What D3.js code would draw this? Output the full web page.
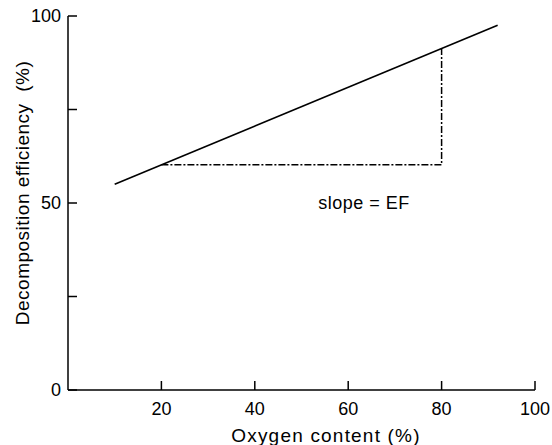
<!DOCTYPE html>
<html>
<head>
<meta charset="utf-8">
<script src="https://cdn.jsdelivr.net/npm/d3@7"></script>
<style>
  body { margin: 0; background: #fff; }
  text { font-family: "Liberation Sans", Arial, sans-serif; fill: #000; }
</style>
</head>
<body>
<svg width="552" height="445"></svg>
<script>
// data
var xTicks = [20, 40, 60, 80, 100];
var yTicks = [0, 25, 50, 75, 100];
var yLabels = [0, 50, 100];
var fitLine = [[10, 55], [92, 97.5]];
var slopeGuide = [[20, 60.2], [80, 60.2], [80, 91.3]];
var note = { x: 53.6, y: 50, text: 'slope = EF' };

var svg = d3.select('svg');

var x = d3.scaleLinear().domain([0, 100]).range([68, 535]),
  y = d3.scaleLinear().domain([0, 100]).range([390, 16]);

// axes lines
svg.append('line')
  .attr('x1', x(0)).attr('x2', x(0))
  .attr('y1', y(0)).attr('y2', y(100))
  .attr('stroke', '#000').attr('stroke-width', 1.5);

svg.append('line')
  .attr('x1', x(0)).attr('x2', x(100))
  .attr('y1', y(0)).attr('y2', y(0))
  .attr('stroke', '#000').attr('stroke-width', 1.5);

// y ticks point inward
svg.selectAll('.ytick')
  .data(yTicks)
  .enter()
  .append('line')
  .attr('x1', x(0)).attr('x2', x(0) + 9)
  .attr('y1', d => y(d)).attr('y2', d => y(d))
  .attr('stroke', '#000').attr('stroke-width', 1.5);

svg.selectAll('.ylab')
  .data(yLabels)
  .enter()
  .append('text')
  .attr('x', x(0) - 7)
  .attr('y', d => y(d))
  .attr('dy', '.35em')
  .attr('text-anchor', 'end')
  .attr('font-size', 18)
  .text(d => d);

// x ticks
svg.selectAll('.xtick')
  .data(xTicks)
  .enter()
  .append('line')
  .attr('x1', d => x(d)).attr('x2', d => x(d))
  .attr('y1', y(0)).attr('y2', y(0) - 9)
  .attr('stroke', '#000').attr('stroke-width', 1.5);

svg.selectAll('.xlab')
  .data(xTicks)
  .enter()
  .append('text')
  .attr('x', d => x(d))
  .attr('y', 409)
  .attr('dy', '.35em')
  .attr('text-anchor', 'middle')
  .attr('font-size', 18)
  .text(d => d);

svg.append('text')
  .attr('x', 326)
  .attr('y', 441.5)
  .attr('text-anchor', 'middle')
  .attr('font-size', 19)
  .attr('letter-spacing', 1.2)
  .text('Oxygen content (%)');

svg.append('text')
  .attr('transform', 'translate(22,193) rotate(-90)')
  .attr('dy', '.35em')
  .attr('text-anchor', 'middle')
  .attr('font-size', 19)
  .attr('letter-spacing', 0.5)
  .attr('xml:space', 'preserve')
  .style('white-space', 'pre')
  .text('Decomposition efficiency  (%)');

var line = d3.line().x(d => x(d[0])).y(d => y(d[1]));

svg.append('path')
  .attr('d', line(fitLine))
  .attr('fill', 'none')
  .attr('stroke', '#000')
  .attr('stroke-width', 1.6);

// dash-dot guide showing the slope
svg.append('path')
  .attr('d', line(slopeGuide))
  .attr('fill', 'none')
  .attr('stroke', '#000')
  .attr('stroke-width', 1.5)
  .attr('stroke-dasharray', '7,2,2,2');

svg.append('text')
  .attr('x', x(note.x))
  .attr('y', y(note.y))
  .attr('dy', '.35em')
  .attr('font-size', 18)
  .attr('letter-spacing', 0.5)
  .text(note.text);
</script>
</body>
</html>
